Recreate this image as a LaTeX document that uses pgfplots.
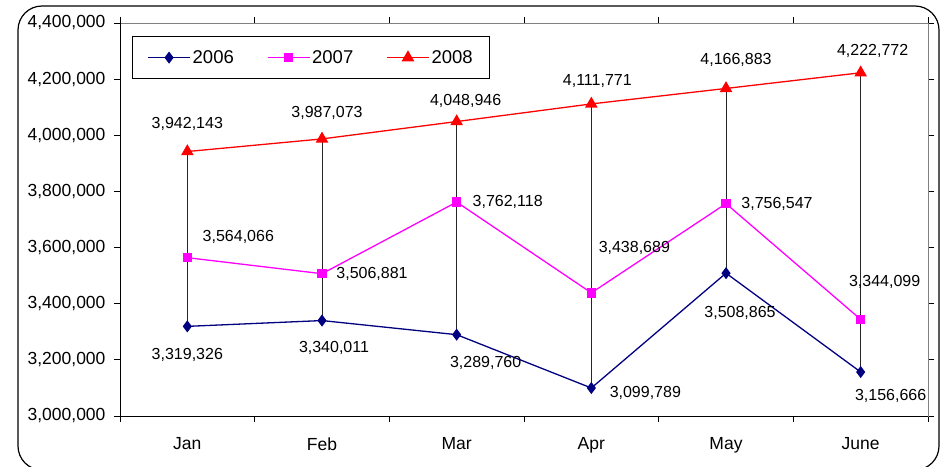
\documentclass[border=0pt]{standalone}
\usepackage{fontspec}
\setmainfont{Liberation Sans}
\usepackage{pgfplots}
\usepackage{pgfplotstable}
\pgfplotsset{compat=1.18}

\definecolor{s2006}{RGB}{0,0,128}
\definecolor{s2007}{RGB}{255,0,255}
\definecolor{s2008}{RGB}{255,0,0}
\definecolor{framegray}{RGB}{128,128,128}

% monthly values; dx/dy place each value label relative to its point (pt)
\pgfplotstableread{
x y dx dy
0 3319326 0 -29
1 3340011 12 -27
2 3289760 29 -28
3 3099789 54 -5
4 3508865 14 -40
5 3156666 30 -24
}\seriesA
\pgfplotstableread{
x y dx dy
0 3564066 51 21
1 3506881 50 0
2 3762118 51 0
3 3438689 43 45
4 3756547 51 0
5 3344099 24 37
}\seriesB
\pgfplotstableread{
x y dx dy
0 3942143 0 28
1 3987073 5 26
2 4048946 9 21
3 4111771 6 23
4 4166883 10 29
5 4222772 12 22
}\seriesC
% high-low lines joining the lowest and highest value of each month
\pgfplotstableread{
x y
0 3319326
0 3942143
0 nan
1 3340011
1 3987073
1 nan
2 3289760
2 4048946
2 nan
3 3099789
3 4111771
3 nan
4 3508865
4 4166883
4 nan
5 3156666
5 4222772
}\hilo

\pgfplotsset{
  vlabels/.style={
    point meta=y,
    nodes near coords={\pgfmathprintnumber[fixed,precision=0,1000 sep={,},assume math mode=true]{\pgfplotspointmeta}},
    visualization depends on={\thisrow{dx}\as\labdx},
    visualization depends on={\thisrow{dy}\as\labdy},
    every node near coord/.append style={text=black, anchor=center, inner sep=0pt,
      font=\fontsize{16}{19}\selectfont, xshift=\labdx, yshift=\labdy},
  },
}

\begin{document}
\begin{tikzpicture}
\path[use as bounding box] (0,0) rectangle (941pt,-466pt);
\draw[line width=1.2pt, rounded corners=24pt] (18pt,-6pt) rectangle (939pt,-470pt);
\begin{axis}[
  at={(120pt,-416pt)}, anchor=south west,
  scale only axis, width=808pt, height=393pt,
  xmin=-0.5, xmax=5.5, ymin=3000000, ymax=4400000,
  clip=false,
  axis line style={draw=framegray, line width=0.8pt},
  tick align=outside,
  major tick length=6pt, minor tick length=6pt,
  tick style={black, line width=0.8pt},
  xtick={0,1,2,3,4,5},
  xticklabels={Jan,Feb,Mar,Apr,May,June},
  major x tick style={draw=none},
  minor xtick={-0.5,0.5,1.5,2.5,3.5,4.5,5.5},
  ytick={3000000,3200000,3400000,3600000,3800000,4000000,4200000,4400000},
  scaled y ticks=false,
  /pgf/number format/fixed,
  /pgf/number format/precision=0,
  /pgf/number format/1000 sep={,},
  /pgf/number format/assume math mode=true,
  ticklabel style={font=\fontsize{17.5}{20}\selectfont},
  xticklabel style={yshift=-12pt},
  yticklabel style={xshift=-5pt},
  legend columns=3,
  legend image code/.code={\draw[line width=1.3pt, mark repeat=2, mark phase=2] plot coordinates {(0pt,0pt) (21pt,0pt) (42pt,0pt)};},
  legend style={at={(0,1)}, anchor=north west, xshift=12pt, yshift=-13pt,
    draw=black, line width=0.8pt, inner xsep=15pt, inner ysep=12pt,
    font=\fontsize{18.5}{21}\selectfont,
    nodes={inner sep=2pt},
    /tikz/every even column/.append style={column sep=31pt}},
]
\addplot[black!85, line width=0.8pt, forget plot, unbounded coords=jump] table[x=x, y=y] {\hilo};

\addplot[s2006, line width=1.3pt, mark=diamond*, mark size=5pt, mark options={solid, fill=s2006}, vlabels]
  table[x=x, y=y] {\seriesA};
\addlegendentry{2006}
\addplot[s2007, line width=1.3pt, mark=square*, mark size=4pt, mark options={solid, fill=s2007}, vlabels]
  table[x=x, y=y] {\seriesB};
\addlegendentry{2007}
\addplot[s2008, line width=1.3pt, mark=triangle*, mark size=6pt, mark options={solid, fill=s2008}, vlabels]
  table[x=x, y=y] {\seriesC};
\addlegendentry{2008}

\draw[black, line width=0.8pt] (rel axis cs:0,1) -- (rel axis cs:0,0) -- (rel axis cs:1,0);
\end{axis}
\end{tikzpicture}
\end{document}
